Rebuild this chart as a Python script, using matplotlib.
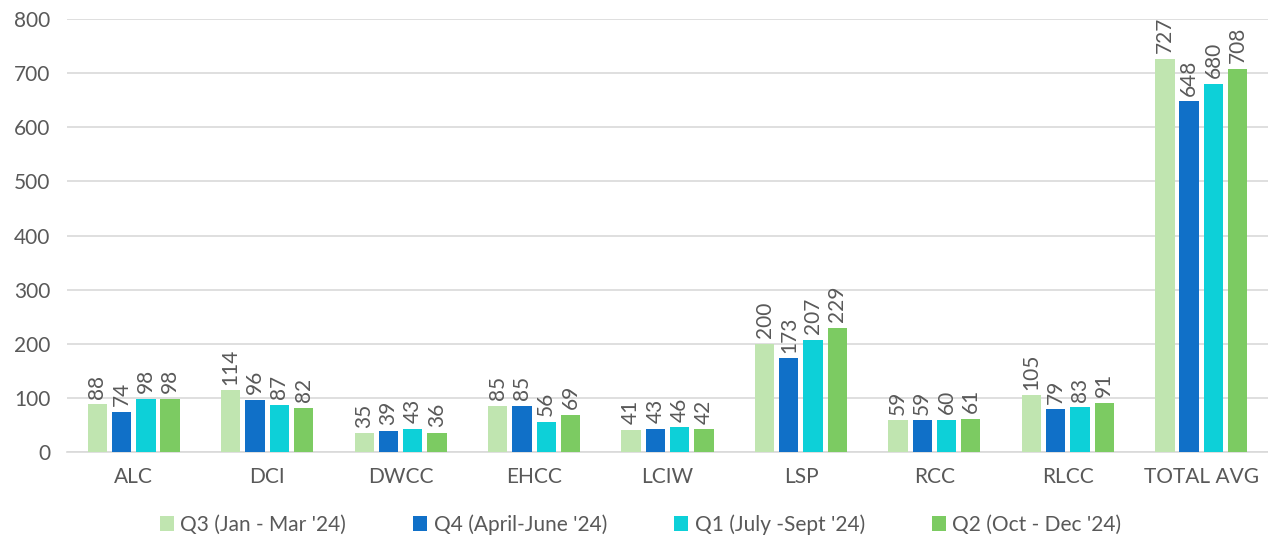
import numpy as np
import matplotlib.pyplot as plt

categories = ["ALC", "DCI", "DWCC", "EHCC", "LCIW", "LSP", "RCC", "RLCC", "TOTAL AVG"]
series_names = ["Q3 (Jan - Mar '24)", "Q4 (April-June '24)", "Q1 (July -Sept '24)", "Q2 (Oct - Dec '24)"]
q3 = [88, 114, 35, 85, 41, 200, 59, 105, 727]
q4 = [74, 96, 39, 85, 43, 173, 59, 79, 648]
q1 = [98, 87, 43, 56, 46, 207, 60, 83, 680]
q2 = [98, 82, 36, 69, 42, 229, 61, 91, 708]
colors = ["#C0E5B0", "#1070C8", "#0DD0D8", "#7CCB62"]

plt.rcParams['font.family'] = ['Lato', 'DejaVu Sans']
text_color = "#595959"

fig = plt.figure(figsize=(12.68, 5.46), dpi=100)
ax = fig.add_axes([67 / 1268, 94 / 546, 1201 / 1268, 433 / 546])

x = np.arange(len(categories))
width = 0.145
step = 0.182
for i, (vals, name, col) in enumerate(zip([q3, q4, q1, q2], series_names, colors)):
    pos = x + (i - 1.5) * step
    ax.bar(pos, vals, width, color=col, label=name, zorder=3)
    for p, v in zip(pos, vals):
        ax.annotate(str(v), (p, v), xytext=(0, 4), textcoords="offset points",
                    rotation=90, ha="center", va="bottom", fontsize=15, color=text_color)

ax.set_xlim(-0.5, len(categories) - 0.5)
ax.set_ylim(0, 800)
ax.set_yticks(range(0, 801, 100))
ax.set_xticks(x)
ax.set_xticklabels(categories)
ax.grid(axis="y", color="#D9D9D9", linewidth=1.2, zorder=0)
for s in ["top", "right", "left"]:
    ax.spines[s].set_visible(False)
ax.spines["bottom"].set_color("#D9D9D9")
ax.spines["bottom"].set_linewidth(1.2)
ax.tick_params(axis="both", length=0, labelsize=15, colors=text_color)
ax.tick_params(axis="x", pad=11)
ax.tick_params(axis="y", pad=12)

ax.legend(loc="lower center", bbox_to_anchor=(0.5 - 57 / 1268 / 2, -0.235), ncol=4, frameon=False,
          fontsize=15, labelcolor=text_color, handlelength=0.7, handleheight=0.7,
          handletextpad=0.3, columnspacing=3.2)

fig.savefig("out.png", dpi=100)
